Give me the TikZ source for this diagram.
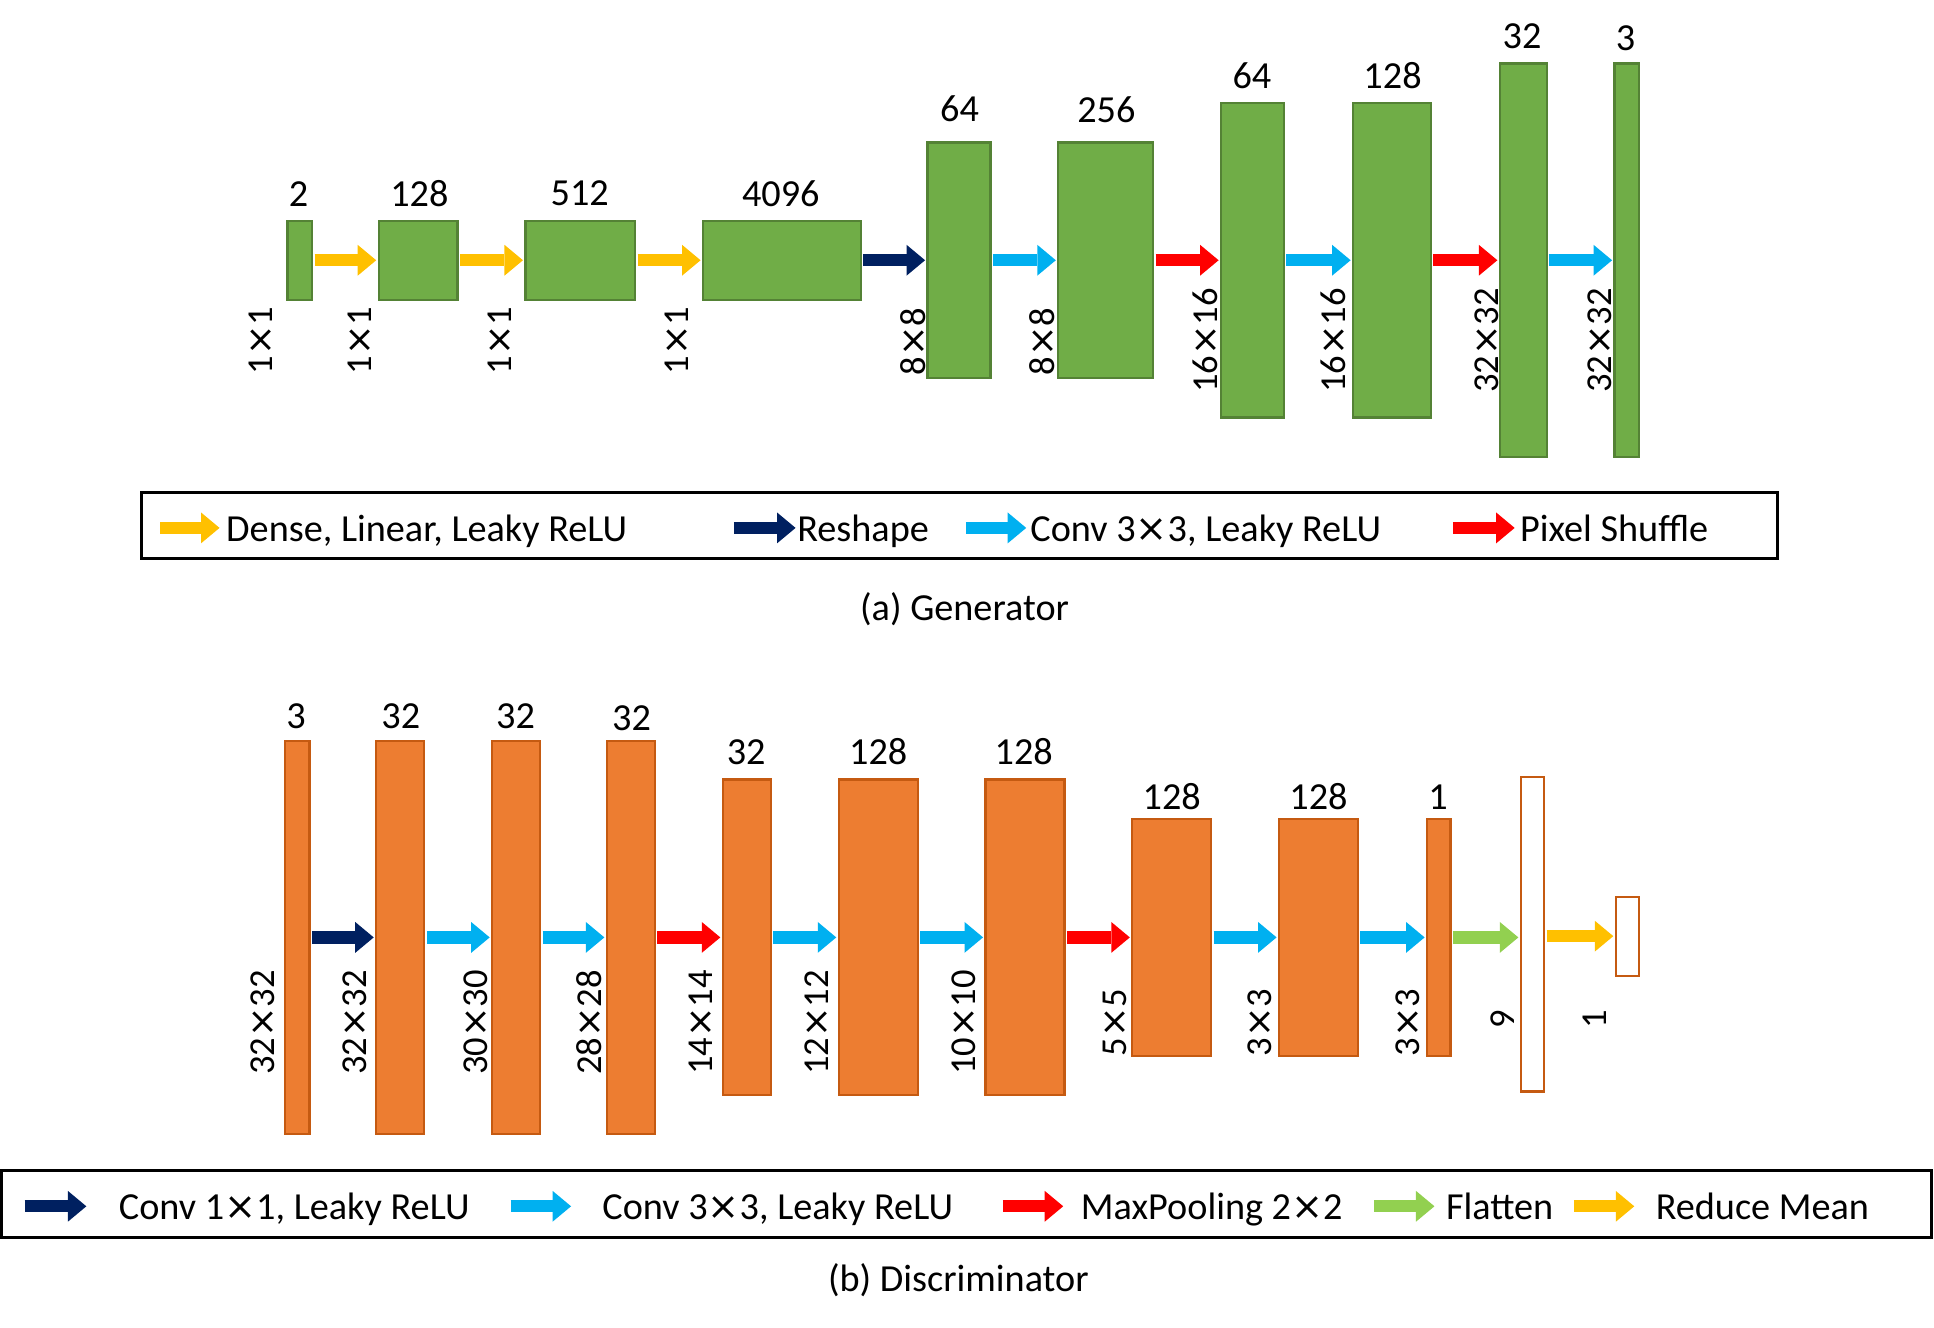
\documentclass[tikz,border=0pt]{standalone}
\usepackage{fontspec}
\setmainfont{Carlito}
\newfontfamily\xfont{DejaVu Sans}
\newcommand\tms{{\xfont ×}}
\usetikzlibrary{arrows.meta,calc}
\definecolor{gfill}{HTML}{70AD47}
\definecolor{gline}{HTML}{548235}
\definecolor{ofill}{HTML}{ED7D31}
\definecolor{oline}{HTML}{C55A11}
\definecolor{ayel}{HTML}{FFC000}
\definecolor{anavy}{HTML}{002060}
\definecolor{acyan}{HTML}{00B0F0}
\definecolor{ared}{HTML}{FF0000}
\definecolor{agrn}{HTML}{92D050}
\begin{document}
\begin{tikzpicture}[x=0.5pt,y=-0.5pt,
  font=\fontsize{15.5pt}{18pt}\selectfont,
  gbox/.style={draw=gline,fill=gfill,line width=0.9pt,inner sep=0pt,outer sep=0pt},
  obox/.style={draw=oline,fill=ofill,line width=0.9pt,inner sep=0pt,outer sep=0pt},
  wbox/.style={draw=oline,fill=white,line width=0.9pt,inner sep=0pt,outer sep=0pt},
  blk/.style={line width=5pt,-{Triangle[length=7.5pt,width=12.5pt,line width=0pt]}},
  conn/.style={blk,shorten <=1pt,shorten >=1pt},
  num/.style={inner sep=0pt},
  dimlab/.style={inner sep=0pt,rotate=90,font=\fontsize{14.8pt}{17pt}\selectfont},
  legtext/.style={anchor=base west,inner sep=0pt},
  legbox/.style={draw=black,line width=1.2pt}]
\useasboundingbox (0,0) rectangle (1568,1076);

% ---------------- Generator ----------------
\node[gbox,minimum width=10pt,minimum height=32pt] (gA) at (243,211) {};
\node[gbox,minimum width=32pt,minimum height=32pt] (gB) at (339,211) {};
\node[gbox,minimum width=44.5pt,minimum height=32pt] (gC) at (470.5,211) {};
\node[gbox,minimum width=64pt,minimum height=32pt] (gD) at (634,211) {};
\node[gbox,minimum width=25.5pt,minimum height=95.5pt] (gE) at (777.5,211) {};
\node[gbox,minimum width=38.5pt,minimum height=95.5pt] (gF) at (896.5,211) {};
\node[gbox,minimum width=25.5pt,minimum height=127.5pt] (gG) at (1015.5,211) {};
\node[gbox,minimum width=31.5pt,minimum height=127.5pt] (gH) at (1128.5,211) {};
\node[gbox,minimum width=19pt,minimum height=159.5pt] (gI) at (1235,211) {};
\node[gbox,minimum width=10pt,minimum height=159.5pt] (gJ) at (1319,211) {};

\node[num] (tgA) at (242,157) {2};
\node[num] (tgB) at (340,157) {128};
\node[num] (tgC) at (470,157) {512};
\node[num] (tgD) at (633,157) {4096};
\node[num] (tgE) at (778,88) {64};
\node[num] (tgF) at (897,89) {256};
\node[num] (tgG) at (1015,61) {64};
\node[num] (tgH) at (1129,61) {128};
\node[num] (tgI) at (1234,29) {32};
\node[num] (tgJ) at (1318,31) {3};

\node[dimlab] (dgA) at (211,276) {1\tms1};
\node[dimlab] (dgB) at (292,276) {1\tms1};
\node[dimlab] (dgC) at (405,276) {1\tms1};
\node[dimlab] (dgD) at (549,276) {1\tms1};
\node[dimlab] (dgE) at (740,277) {8\tms8};
\node[dimlab] (dgF) at (845,277) {8\tms8};
\node[dimlab] (dgG) at (977,276) {16\tms16};
\node[dimlab] (dgH) at (1081,276) {16\tms16};
\node[dimlab] (dgI) at (1205,276) {32\tms32};
\node[dimlab] (dgJ) at (1297,276) {32\tms32};

\draw[conn,ayel] (gA.east) -- (gB.west);
\draw[conn,ayel] (gB.east) -- (gC.west);
\draw[conn,ayel] (gC.east) -- (gD.west);
\draw[conn,anavy] (gD.east) -- (gE.west);
\draw[conn,acyan] (gE.east) -- (gF.west);
\draw[conn,ared] (gF.east) -- (gG.west);
\draw[conn,acyan] (gG.east) -- (gH.west);
\draw[conn,ared] (gH.east) -- (gI.west);
\draw[conn,acyan] (gI.east) -- (gJ.west);

% legend (a)
\draw[legbox] (115,399) rectangle (1441,453);
\coordinate (la1s) at (130,428); \coordinate (la1e) at (178,428);
\coordinate (la2s) at (595,428); \coordinate (la2e) at (645,428);
\coordinate (la3s) at (783,428); \coordinate (la3e) at (832,428);
\coordinate (la4s) at (1178,428); \coordinate (la4e) at (1228,428);
\draw[blk,ayel] (la1s) -- (la1e);
\draw[blk,anavy] (la2s) -- (la2e);
\draw[blk,acyan] (la3s) -- (la3e);
\draw[blk,ared] (la4s) -- (la4e);
\node[legtext] (lat1) at (183,439) {Dense, Linear, Leaky ReLU};
\node[legtext] (lat2) at (646,439) {Reshape};
\node[legtext] (lat3) at (835,439) {Conv 3\tms3, Leaky ReLU};
\node[legtext] (lat4) at (1232,439) {Pixel Shuffle};
\node[num] (capa) at (782,494) {(a) Generator};

% ---------------- Discriminator ----------------
\node[obox,minimum width=10pt,minimum height=159.5pt] (d1) at (241,760) {};
\node[obox,minimum width=19.5pt,minimum height=159.5pt] (d2) at (324.5,760) {};
\node[obox,minimum width=19.5pt,minimum height=159.5pt] (d3) at (418.5,760) {};
\node[obox,minimum width=19.5pt,minimum height=159.5pt] (d4) at (511.5,760) {};
\node[obox,minimum width=19.5pt,minimum height=128pt] (d5) at (605.5,760) {};
\node[obox,minimum width=32pt,minimum height=128pt] (d6) at (712,760) {};
\node[obox,minimum width=32pt,minimum height=128pt] (d7) at (831,760) {};
\node[obox,minimum width=32pt,minimum height=96pt] (d8) at (950,760) {};
\node[obox,minimum width=32pt,minimum height=96pt] (d9) at (1069,760) {};
\node[obox,minimum width=9.5pt,minimum height=96pt] (d10) at (1166.5,760) {};
\node[wbox,minimum width=9.5pt,minimum height=127.5pt] (d11) at (1242.5,757.5) {};
\node[wbox,minimum width=9.5pt,minimum height=32pt] (d12) at (1319.5,759) {};

\node[num] (td1) at (240,581) {3};
\node[num] (td2) at (325,581) {32};
\node[num] (td3) at (418,581) {32};
\node[num] (td4) at (512,582) {32};
\node[num] (td5) at (605,610) {32};
\node[num] (td6) at (712,609) {128};
\node[num] (td7) at (830,609) {128};
\node[num] (td8) at (950,646) {128};
\node[num] (td9) at (1069,646) {128};
\node[num] (td10) at (1166,646) {1};

\node[dimlab] (dd1) at (213,829) {32\tms32};
\node[dimlab] (dd2) at (288,829) {32\tms32};
\node[dimlab] (dd3) at (386,829) {30\tms30};
\node[dimlab] (dd4) at (478,829) {28\tms28};
\node[dimlab] (dd5) at (568,829) {14\tms14};
\node[dimlab] (dd6) at (662,829) {12\tms12};
\node[dimlab] (dd7) at (781,829) {10\tms10};
\node[dimlab] (dd8) at (904,829) {5\tms5};
\node[dimlab] (dd9) at (1021,829) {3\tms3};
\node[dimlab] (dd10) at (1141,829) {3\tms3};
\node[dimlab] (dd11) at (1218,826) {9};
\node[dimlab] (dd12) at (1293,826) {1};

\draw[conn,anavy] (d1.east) -- (d2.west);
\draw[conn,acyan] (d2.east) -- (d3.west);
\draw[conn,acyan] (d3.east) -- (d4.west);
\draw[conn,ared] (d4.east) -- (d5.west);
\draw[conn,acyan] (d5.east) -- (d6.west);
\draw[conn,acyan] (d6.east) -- (d7.west);
\draw[conn,ared] (d7.east) -- (d8.west);
\draw[conn,acyan] (d8.east) -- (d9.west);
\draw[conn,acyan] (d9.east) -- (d10.west);
\draw[conn,agrn] (d10.east) -- (d10.east -| d11.west);
\draw[conn,ayel] (d11.east |- d12.west) -- (d12.west);

% legend (b)
\draw[legbox] (1.5,949) rectangle (1566,1003);
\coordinate (lb1s) at (20,978); \coordinate (lb1e) at (70,978);
\coordinate (lb2s) at (414,978); \coordinate (lb2e) at (463,978);
\coordinate (lb3s) at (813,978); \coordinate (lb3e) at (862,978);
\coordinate (lb4s) at (1114,978); \coordinate (lb4e) at (1163,978);
\coordinate (lb5s) at (1276,978); \coordinate (lb5e) at (1325,978);
\draw[blk,anavy] (lb1s) -- (lb1e);
\draw[blk,acyan] (lb2s) -- (lb2e);
\draw[blk,ared] (lb3s) -- (lb3e);
\draw[blk,agrn] (lb4s) -- (lb4e);
\draw[blk,ayel] (lb5s) -- (lb5e);
\node[legtext] (lbt1) at (96,989) {Conv 1\tms1, Leaky ReLU};
\node[legtext] (lbt2) at (488,989) {Conv 3\tms3, Leaky ReLU};
\node[legtext] (lbt3) at (876,989) {MaxPooling 2\tms2};
\node[legtext] (lbt4) at (1172,989) {Flatten};
\node[legtext] (lbt5) at (1342,989) {Reduce Mean};
\node[num] (capb) at (777,1038) {(b) Discriminator};
\end{tikzpicture}
\end{document}
